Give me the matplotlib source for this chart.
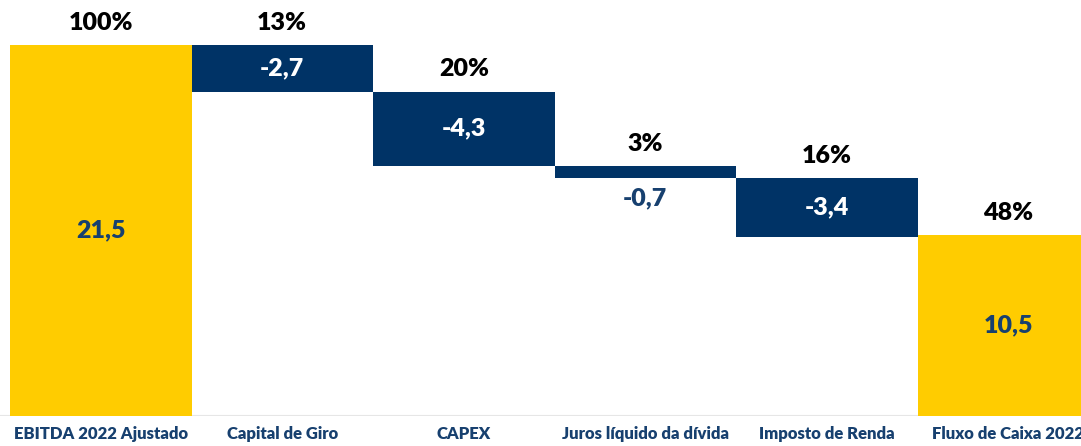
import matplotlib.pyplot as plt
import numpy as np

categories = ["EBITDA 2022 Ajustado", "Capital de Giro", "CAPEX",
              "Juros líquido da dívida", "Imposto de Renda", "Fluxo de Caixa 2022"]
values = [21.5, -2.7, -4.3, -0.7, -3.4, 10.5]
value_labels = ["21,5", "-2,7", "-4,3", "-0,7", "-3,4", "10,5"]
pct_labels = ["100%", "13%", "20%", "3%", "16%", "48%"]
is_total = [True, False, False, False, False, True]

GOLD = "#FFCC00"
NAVY = "#003366"
TEXT_NAVY = "#17406F"

plt.rcParams['font.family'] = ['Lato', 'DejaVu Sans']

fig = plt.figure(figsize=(10.81, 4.46), dpi=100)
ax = fig.add_axes([0, 30 / 446, 1, 416 / 446])

x = np.arange(len(categories))
running = 0.0
for i, (v, total) in enumerate(zip(values, is_total)):
    if total:
        bottom, height = 0.0, v
        running = v
        color = GOLD
    else:
        bottom, height = running + v, -v
        running = running + v
        color = NAVY
    ax.bar(x[i], height, bottom=bottom, width=1.0, color=color, linewidth=0)
    top = bottom + height
    ax.annotate(pct_labels[i], (x[i], top), xytext=(0, 8), textcoords="offset points",
                ha="center", va="bottom", fontsize=18, fontweight="heavy", color="black")
    if total:
        ax.text(x[i], bottom + height / 2, value_labels[i], ha="center", va="center",
                fontsize=18, fontweight="heavy", color=TEXT_NAVY)
    elif height < 1.5:
        ax.annotate(value_labels[i], (x[i], bottom), xytext=(0, -7), textcoords="offset points",
                    ha="center", va="top", fontsize=18, fontweight="heavy", color=TEXT_NAVY)
    else:
        ax.text(x[i], bottom + height / 2, value_labels[i], ha="center", va="center",
                fontsize=18, fontweight="heavy", color="white")

left = -0.5 - 10 / 181.5
right = left + 1081 / 181.5
ax.set_xlim(left, right)
ax.set_ylim(0, 416 / 17.256)
ax.axhline(0, color="#E6E6E6", linewidth=1.5, zorder=0)

ax.set_xticks(x)
ax.set_xticklabels(categories, fontsize=12, fontweight="heavy", color=TEXT_NAVY)
ax.tick_params(axis="x", length=0, pad=7)
ax.set_yticks([])
for s in ax.spines.values():
    s.set_visible(False)

fig.savefig("out.png", dpi=100)
